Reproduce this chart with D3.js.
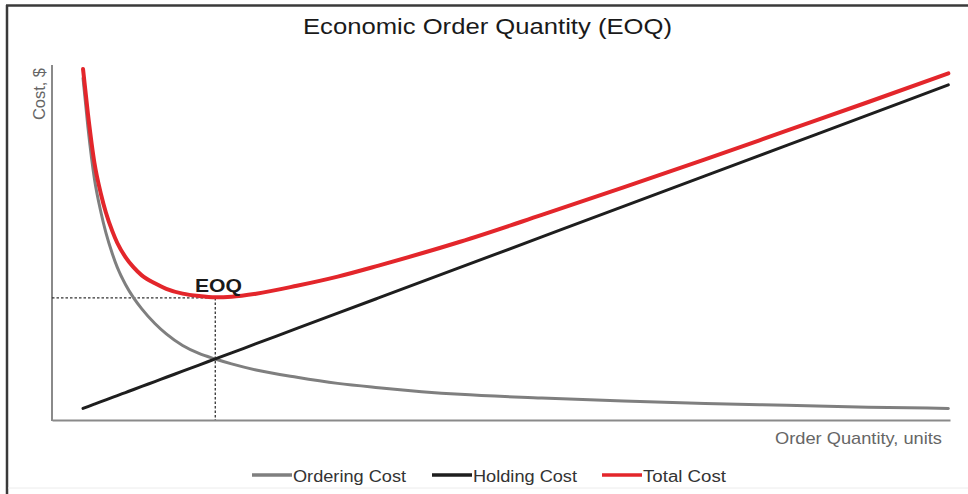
<!DOCTYPE html>
<html><head><meta charset="utf-8">
<script src="https://cdn.jsdelivr.net/npm/d3@7"></script>
<style>
html,body{margin:0;padding:0;background:#fff;}
svg{display:block;font-family:"Liberation Sans",Arial,sans-serif;}
</style></head>
<body>
<svg id="chart" width="968" height="494"></svg>
<script>
// Data
const quantity     = [19, 22, 26, 30, 33, 37, 40, 45, 50, 55, 63, 70, 80, 90, 100, 110, 125, 150, 175, 200, 250, 300, 350, 400, 450, 500, 549];
const orderingCost = [560, 480, 395, 340, 307, 272, 250, 222, 200, 182, 158, 141, 122, 109, 100, 92, 82, 70, 60, 53, 42, 36, 31, 27, 24, 21, 19];
const holdingCost  = [19, 22, 26, 30, 33, 37, 40, 45, 50, 55, 63, 70, 80, 90, 100, 110, 125, 150, 175, 200, 250, 300, 350, 400, 450, 500, 549];
const totalCost    = [575, 502, 421, 370, 340, 309, 290, 267, 250, 237, 224, 215, 207, 203, 201, 202, 207, 220, 235, 253, 292, 336, 381, 427, 474, 521, 568];
const eoqQuantity = 100;
const eoqCost = 200;
const seriesNames = ["Ordering Cost", "Holding Cost", "Total Cost"];
const seriesColors = ["#7f7f7f", "#1e1e1e", "#e3262b"];
const seriesWidths = [3, 3, 4];

const svg = d3.select("#chart");

// frame
svg.append("line").attr("x1",7).attr("x2",7).attr("y1",5).attr("y2",494).attr("stroke","#3a3a3a").attr("stroke-width",2.5);
svg.append("line").attr("x1",6).attr("x2",968).attr("y1",5.5).attr("y2",5.5).attr("stroke","#3a3a3a").attr("stroke-width",2.5);
svg.append("line").attr("x1",8).attr("x2",968).attr("y1",488).attr("y2",488).attr("stroke","#ececec").attr("stroke-width",1);

const x = d3.scaleLinear().domain([0, 550]).range([52, 950]);
const y = d3.scaleLinear().domain([0, 580]).range([420, 66]);

// title
svg.append("text").attr("x", 303).attr("y", 34)
  .attr("font-size", 22).attr("fill","#1a1a1a")
  .attr("textLength", 369).attr("lengthAdjust","spacingAndGlyphs")
  .text("Economic Order Quantity (EOQ)");

// axes (lines only)
const xAxis = d3.axisBottom(x).tickValues([]).tickSizeOuter(0);
const yAxis = d3.axisLeft(y).tickValues([]).tickSizeOuter(0);
const gx = svg.append("g").attr("transform","translate(0,420)").call(xAxis);
const gy = svg.append("g").attr("transform","translate(52,0)").call(yAxis);
gx.select(".domain").attr("stroke","#8a8a8a").attr("stroke-width",2);
gy.select(".domain").attr("stroke","#8a8a8a").attr("stroke-width",2);
gy.select(".domain").attr("d", "M0," + (y(0)+1) + "V65");

// axis labels
svg.append("text").attr("transform","translate(45,68) rotate(-90)").attr("text-anchor","end")
  .attr("font-size", 16).attr("fill","#666")
  .attr("textLength", 52).attr("lengthAdjust","spacingAndGlyphs").text("Cost, $");
svg.append("text").attr("x", 775).attr("y", 444)
  .attr("font-size", 17).attr("fill","#666")
  .attr("textLength", 167).attr("lengthAdjust","spacingAndGlyphs").text("Order Quantity, units");

// EOQ guide lines
svg.append("line").attr("x1", x(0)).attr("x2", x(eoqQuantity)).attr("y1", y(eoqCost)).attr("y2", y(eoqCost))
  .attr("stroke","#333").attr("stroke-width",1.3).attr("stroke-dasharray","2.5,2");
svg.append("line").attr("x1", x(eoqQuantity)).attr("x2", x(eoqQuantity)).attr("y1", y(eoqCost)).attr("y2", y(0))
  .attr("stroke","#333").attr("stroke-width",1.3).attr("stroke-dasharray","2.5,2");

// series lines
const seriesData = [orderingCost, holdingCost, totalCost];
const line = d3.line().x(d => x(d[0])).y(d => y(d[1])).curve(d3.curveMonotoneX);
seriesData.forEach((vals, i) => {
  const pts = quantity.map((q, j) => [q, vals[j]]);
  svg.append("path").datum(pts).attr("d", line)
    .attr("fill","none").attr("stroke", seriesColors[i]).attr("stroke-width", seriesWidths[i])
    .attr("stroke-linecap","round").attr("stroke-linejoin","round");
});

// EOQ label
svg.append("text").attr("x", 195).attr("y", 292)
  .attr("font-size", 18).attr("font-weight","bold").attr("fill","#1a1a1a")
  .attr("textLength", 47).attr("lengthAdjust","spacingAndGlyphs").text("EOQ");

// legend
const legendX = [252, 432, 602];
const legendTextW = [113, 104, 83];
seriesNames.forEach((name, i) => {
  const g = svg.append("g").attr("transform", `translate(${legendX[i]},475)`);
  g.append("line").attr("x1",0).attr("x2",40).attr("y1",0).attr("y2",0)
    .attr("stroke", seriesColors[i]).attr("stroke-width", 3.5);
  g.append("text").attr("x", 41).attr("y", 7).attr("font-size", 16).attr("fill","#333")
    .attr("textLength", legendTextW[i]).attr("lengthAdjust","spacingAndGlyphs").text(name);
});
</script>
</body></html>
